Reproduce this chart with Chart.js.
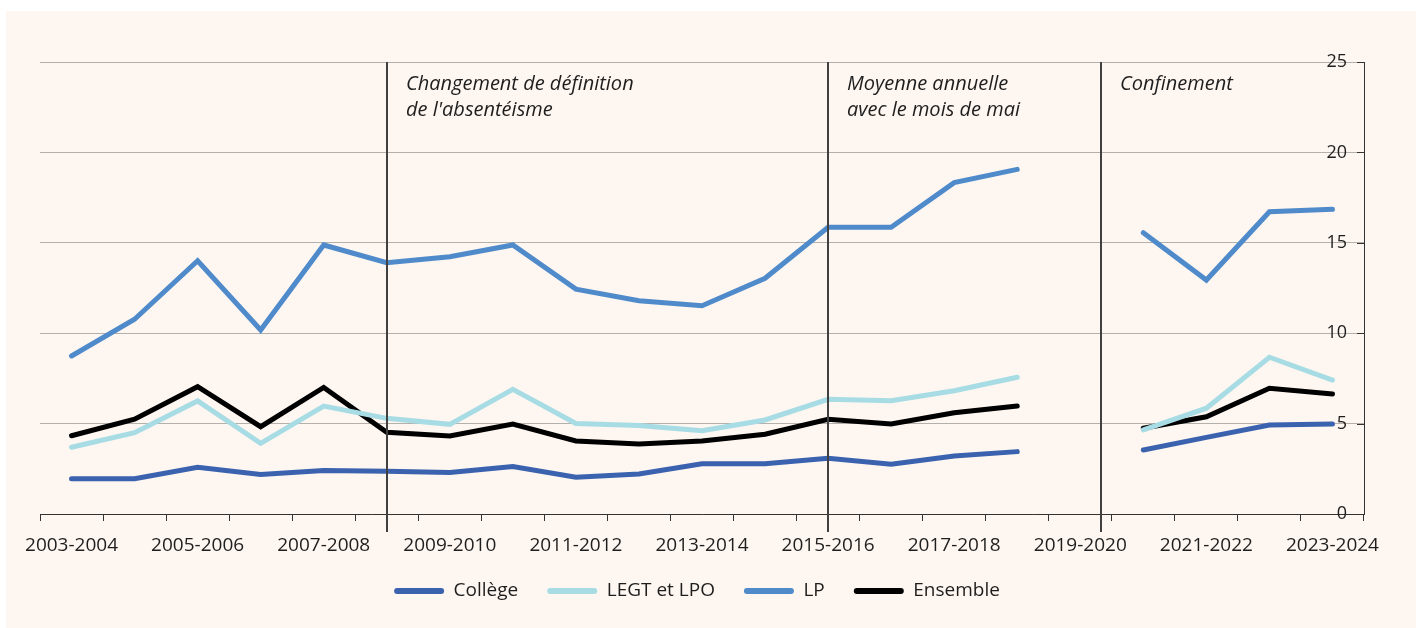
<!DOCTYPE html>
<html lang="fr">
<head>
  <meta charset="UTF-8">
  <title>Absentéisme des élèves</title>
  <script src="https://cdn.jsdelivr.net/npm/chart.js"></script>
  <style>
    body {
      margin: 0;
      background: #fff;
    }
    .chart-box {
      position: absolute;
      left: 6px;
      top: 11px;
      width: 1410px;
      height: 617px;
      background: #fef6f0;
    }
  </style>
</head>
<body>

  <div class="chart-box">
    <canvas id="absChart" width="1410" height="617"></canvas>
  </div>

  <script>
    const years = ['2003-2004', '2004-2005', '2005-2006', '2006-2007', '2007-2008', '2008-2009',
      '2009-2010', '2010-2011', '2011-2012', '2012-2013', '2013-2014', '2014-2015', '2015-2016',
      '2016-2017', '2017-2018', '2018-2019', '2019-2020', '2020-2021', '2021-2022', '2022-2023', '2023-2024'];

    const college = [1.95, 1.95, 2.58, 2.19, 2.40, 2.36, 2.29, 2.62, 2.03, 2.21, 2.78, 2.78, 3.08, 2.75, 3.21, 3.45, null, 3.54, 4.24, 4.92, 4.98];
    const legt = [3.69, 4.50, 6.25, 3.91, 5.97, 5.29, 4.96, 6.90, 5.01, 4.90, 4.61, 5.20, 6.34, 6.27, 6.82, 7.56, null, 4.65, 5.85, 8.67, 7.41];
    const lp = [8.74, 10.77, 14.01, 10.18, 14.88, 13.90, 14.23, 14.88, 12.44, 11.80, 11.52, 13.04, 15.86, 15.86, 18.33, 19.06, null, 15.56, 12.94, 16.72, 16.85];
    const ensemble = [4.33, 5.24, 7.04, 4.83, 7.00, 4.52, 4.31, 4.98, 4.04, 3.87, 4.04, 4.41, 5.24, 4.98, 5.60, 5.97, null, 4.74, 5.38, 6.95, 6.64];

    const yTicks = [0, 5, 10, 15, 20, 25];

    // breaks in the series, as positions on the category axis
    const breaks = [5, 12, 16.33];
    const breakNotes = [
      ['Changement de définition', "de l'absentéisme"],
      ['Moyenne annuelle', 'avec le mois de mai'],
      ['Confinement']
    ];

    const ink = '#1e1e1e';
    Chart.defaults.font.family = "'Open Sans', sans-serif";
    Chart.defaults.color = ink;

    const breakLines = {
      id: 'breakLines',
      afterDatasetsDraw(chart) {
        const { ctx, chartArea, scales: { x, y } } = chart;
        ctx.save();
        // short inward ticks on the right axis
        ctx.strokeStyle = '#333';
        ctx.lineWidth = 1;
        y.ticks.forEach(t => {
          const py = Math.round(y.getPixelForValue(t.value)) + 0.5;
          ctx.beginPath();
          ctx.moveTo(chartArea.right - 7, py);
          ctx.lineTo(chartArea.right, py);
          ctx.stroke();
        });
        ctx.strokeStyle = '#404040';
        ctx.lineWidth = 2;
        ctx.fillStyle = ink;
        ctx.font = "italic 20px 'Open Sans'";
        ctx.textBaseline = 'middle';
        breaks.forEach((b, i) => {
          const px = Math.round(x.getPixelForValue(b));
          ctx.beginPath();
          ctx.moveTo(px, chartArea.top);
          ctx.lineTo(px, chartArea.bottom + 18);
          ctx.stroke();
          breakNotes[i].forEach((line, j) => {
            ctx.fillText(line, px + 19, chartArea.top + 22 + j * 26);
          });
        });
        ctx.restore();
      }
    };

    function serie(label, data, color) {
      return {
        label: label,
        data: data,
        yAxisID: 'y',
        borderColor: color,
        backgroundColor: color,
        borderWidth: 5,
        borderCapStyle: 'round',
        pointRadius: 0,
        tension: 0,
        spanGaps: false
      };
    }

    new Chart(document.getElementById('absChart'), {
      type: 'line',
      data: {
        labels: years,
        datasets: [
          serie('Collège', college, '#3b62ae'),
          serie('LEGT et LPO', legt, '#a7dce5'),
          serie('LP', lp, '#4f8bcb'),
          serie('Ensemble', ensemble, '#000000')
        ]
      },
      options: {
        responsive: false,
        animation: false,
        layout: {
          padding: { left: 24, top: 51, right: 52, bottom: 17.5 }
        },
        plugins: {
          tooltip: { enabled: false },
          legend: {
            position: 'bottom',
            labels: {
              boxWidth: 50,
              boxHeight: 6,
              padding: 29,
              useBorderRadius: true,
              borderRadius: 3,
              font: { size: 19 },
              generateLabels: chart => chart.data.datasets.map((ds, i) => ({
                text: ds.label,
                fillStyle: ds.borderColor,
                strokeStyle: ds.borderColor,
                lineWidth: 0,
                borderRadius: 3,
                fontColor: ink,
                datasetIndex: i,
                hidden: false
              }))
            }
          }
        },
        scales: {
          x: {
            offset: true,
            grid: {
              offset: true,
              drawOnChartArea: false,
              drawTicks: true,
              tickLength: 7,
              color: '#333',
              tickColor: '#333'
            },
            border: { color: '#333', width: 1 },
            ticks: {
              autoSkip: false,
              maxRotation: 0,
              padding: 13,
              font: { size: 19 },
              callback: (v, i) => (i % 2 === 0 ? years[i] : '')
            },
            afterFit: s => { s.height = 38.5; }
          },
          y: {
            position: 'right',
            min: yTicks[0],
            max: yTicks[yTicks.length - 1],
            afterBuildTicks: s => { s.ticks = yTicks.map(v => ({ value: v })); },
            grid: { color: '#b4b0ac', lineWidth: 1, drawTicks: false },
            border: { display: true, color: '#333', width: 1 },
            ticks: {
              mirror: true,
              padding: -17,
              font: { size: 18 }
            },
            afterFit: s => { s.width = 0; }
          },
          // empty spacer on the left, keeps the legend centred like the original
          spacer: {
            type: 'linear',
            position: 'left',
            ticks: { display: false },
            grid: { display: false },
            border: { display: false },
            afterFit: s => { s.width = 10; }
          }
        }
      },
      plugins: [breakLines]
    });
  </script>

</body>
</html>
